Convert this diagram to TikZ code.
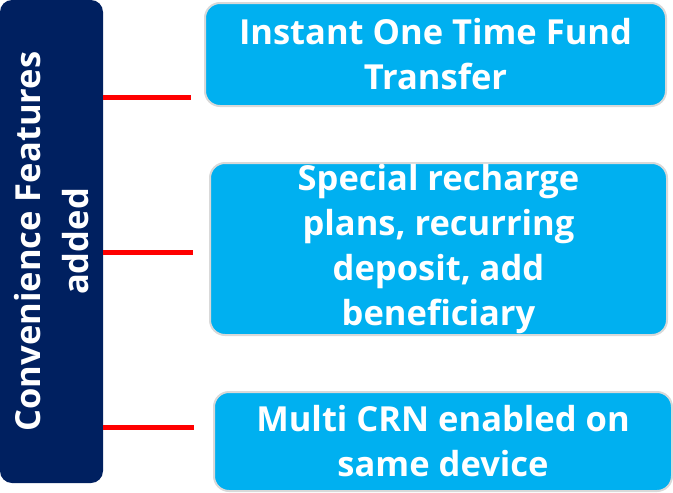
\documentclass[tikz,border=0pt]{standalone}
\usepackage{fontspec}
\setmainfont{Open Sans}
\usetikzlibrary{positioning}
\definecolor{navy}{HTML}{002060}
\definecolor{skyblue}{HTML}{00B0F0}
\definecolor{rimgray}{HTML}{D9D9D9}
\tikzset{
  featbox/.style={fill=navy,rounded corners=12pt,text=white,rotate=90,
    minimum width=483pt,minimum height=103pt,inner sep=0pt,align=center,
    font=\bfseries\fontsize{34.5}{48}\selectfont},
  itembox/.style={draw=rimgray,line width=2pt,fill=skyblue,rounded corners=15pt,
    text=white,align=center,inner sep=0pt,
    font=\bfseries\fontsize{34.5}{45}\selectfont},
  link/.style={draw=red,line width=5pt},
}
\begin{document}
\begin{tikzpicture}[x=1pt,y=-1pt]
  \useasboundingbox (0,0) rectangle (673,493);
  % left column
  \node[featbox] (feat) at (51.5,241.5) {Convenience Features\\added};
  % feature boxes
  \node[itembox,minimum width=461pt,minimum height=103pt] (fund) at (435.5,54.5)
    {Instant One Time Fund\\Transfer};
  \node[itembox,minimum width=457pt,minimum height=172pt] (plans) at (438.5,249)
    {Special recharge\\plans, recurring\\deposit, add\\beneficiary};
  \node[itembox,minimum width=458pt,minimum height=99pt] (crn) at (443,441.5)
    {Multi CRN enabled on\\same device};
  % red ticks
  \coordinate (t1) at (191,97);
  \coordinate (t2) at (193,252);
  \coordinate (t3) at (194,427);
  \draw[link] (feat.south |- t1) -- (t1);
  \draw[link] (feat.south |- t2) -- (t2);
  \draw[link] (feat.south |- t3) -- (t3);
\end{tikzpicture}
\end{document}
